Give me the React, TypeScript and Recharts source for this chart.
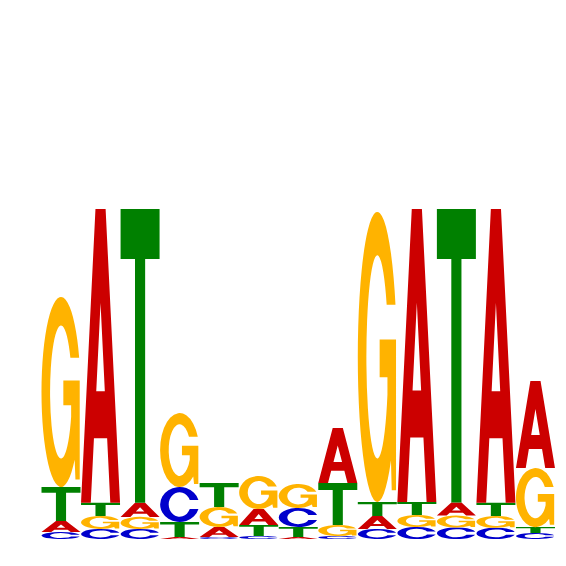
import { BarChart, Bar, XAxis, YAxis } from 'recharts';

// information content per letter (bits), one entry per motif position
const positions = ['1', '2', '3', '4', '5', '6', '7', '8', '9', '10', '11', '12', '13'];
const bitsA = [0.067, 1.782, 0.085, 0.012, 0.061, 0.097, 0.012, 0.333, 0.079, 1.776, 0.079, 1.782, 0.527];
const bitsC = [0.042, 0.061, 0.061, 0.212, 0.012, 0.018, 0.115, 0.018, 0.061, 0.073, 0.07, 0.068, 0.036];
const bitsG = [1.152, 0.079, 0.073, 0.448, 0.121, 0.2, 0.145, 0.067, 1.758, 0.073, 0.072, 0.072, 0.358];
const bitsT = [0.206, 0.079, 1.782, 0.091, 0.145, 0.067, 0.061, 0.255, 0.085, 0.079, 1.782, 0.079, 0.036];

const LETTERS = ['A', 'C', 'G', 'T'];

const COLORS: Record<string, string> = {
  A: '#cc0000',
  C: '#0000cc',
  G: '#ffb300',
  T: '#008000'
};

// glyph outlines in a 100x100 box, stretched to each stack segment
const GLYPHS: Record<string, string> = {
  A: 'M0,100 L37,0 H63 L100,100 H75 L66.9,78 H33.1 L25,100 Z M39,62 H61 L50,32 Z',
  C: 'M98.3,37 A50,50 0 1 0 98.3,63 L76,63 A28,35 0 1 1 76,37 Z',
  G: 'M96.6,32 A50,50 0 1 0 85,85.7 L87,96 H98 V44 H56 V57 H76 V63 A28,35 0 1 1 74,32 Z',
  T: 'M0,0 H100 V17 H63 V100 H37 V17 H0 Z'
};

// each row holds the stack from smallest (r0) to largest (r3)
const data = positions.map((pos, i) => {
  const bits: Record<string, number> = { A: bitsA[i], C: bitsC[i], G: bitsG[i], T: bitsT[i] };
  const order = [...LETTERS].sort((a, b) => bits[a] - bits[b]);
  const row: Record<string, string | number> = { pos };
  order.forEach((l, k) => {
    row[`r${k}`] = bits[l];
    row[`l${k}`] = l;
  });
  return row;
});

const letterShape = (rank: number) => (props: any) => {
  const { x, y, width, height, payload } = props;
  if (!height || height <= 0) return <g />;
  const letter = payload[`l${rank}`];
  return (
    <path
      d={GLYPHS[letter]}
      fill={COLORS[letter]}
      fillRule="evenodd"
      transform={`translate(${x},${y}) scale(${width / 100},${height / 100})`}
    />
  );
};

export default function App() {
  return (
    <div style={{ position: 'fixed', left: 0, top: 0, width: 566, height: 566, background: '#fff' }}>
      <BarChart
        width={566}
        height={566}
        data={data}
        margin={{ top: 209, right: 11, bottom: 27, left: 41 }}
        barCategoryGap={0.5}
      >
        <XAxis dataKey="pos" hide />
        <YAxis hide domain={[0, 2]} allowDataOverflow />
        {[0, 1, 2, 3].map((k) => (
          <Bar
            key={k}
            dataKey={`r${k}`}
            stackId="logo"
            shape={letterShape(k)}
            isAnimationActive={false}
          />
        ))}
      </BarChart>
    </div>
  );
}
